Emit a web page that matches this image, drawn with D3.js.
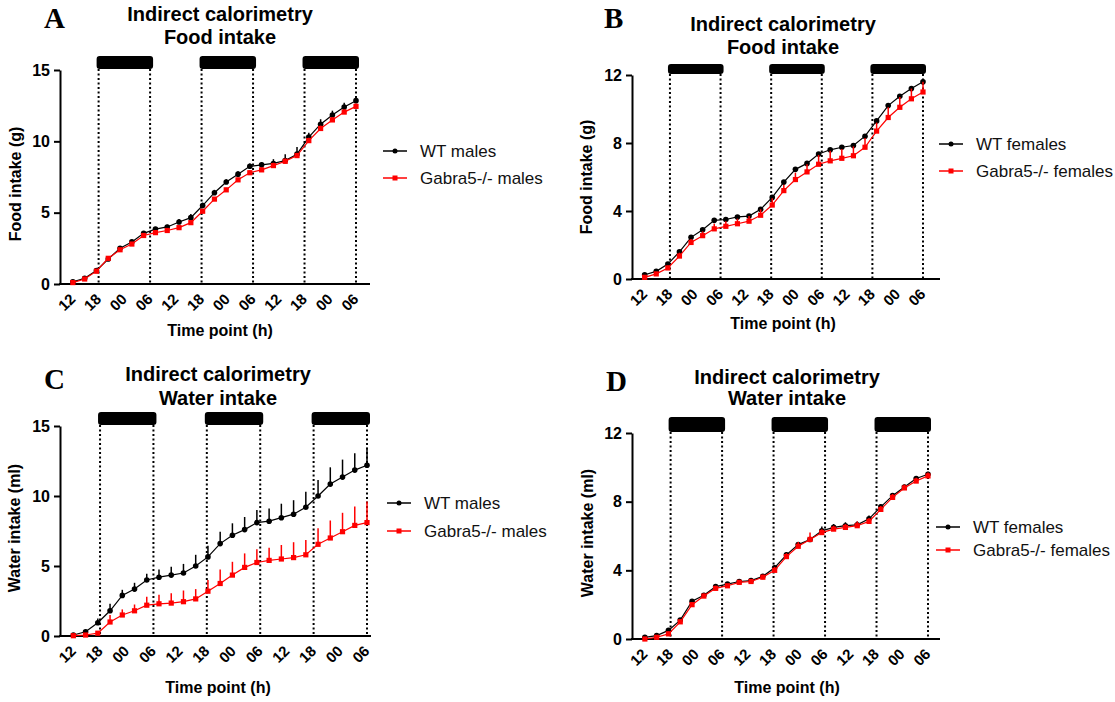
<!DOCTYPE html>
<html>
<head>
    <script src="https://cdn.jsdelivr.net/npm/d3@7"></script>
</head>

<style>
    body { margin: 0; background: #fff; }
    text { font-family: "Liberation Sans", Arial, sans-serif; }
    .letter { font-family: "Liberation Serif", "Times New Roman", serif; font-weight: bold; font-size: 29px; }
    .title { font-weight: bold; font-size: 20px; }
    .axis-label { font-weight: bold; font-size: 16px; }
    .ytick text { font-weight: bold; font-size: 16px; }
    .xtick text { font-weight: bold; font-size: 15px; }
    .legend text { font-size: 17px; fill: #111; }
</style>

<body>
<div id="chart"></div>

<script>

    // x axis: hours after the first sample (12:00 on day 1)
    var timeLabels = ['12', '18', '00', '06', '12', '18', '00', '06', '12', '18', '00', '06'];
    var tickHours = [0, 6, 12, 18, 24, 30, 36, 42, 48, 54, 60, 66];
    var sampleHours = [0, 2.75, 5.5, 8.25, 11, 13.75, 16.5, 19.25, 22, 24.75, 27.5, 30.25, 33,
        35.75, 38.5, 41.25, 44, 46.75, 49.5, 52.25, 55, 57.75, 60.5, 63.25, 66];
    var darkPeriods = [[6, 18], [30, 42], [54, 66]];

    // A - food, males
    var foodMaleWT = [0.15, 0.4, 0.95, 1.75, 2.5, 2.95, 3.55, 3.85, 4.0, 4.35, 4.65, 5.5, 6.4, 7.15, 7.7, 8.25, 8.35, 8.45, 8.65, 9.1, 10.3, 11.2, 11.85, 12.4, 12.85];
    var foodMaleWTErr = [0.05, 0.1, 0.1, 0.15, 0.15, 0.15, 0.15, 0.15, 0.15, 0.2, 0.25, 0.2, 0.2, 0.2, 0.2, 0.2, 0.2, 0.3, 0.45, 0.5, 0.3, 0.35, 0.3, 0.3, 0.25];
    var foodMaleKO = [0.1, 0.35, 0.9, 1.8, 2.4, 2.8, 3.4, 3.6, 3.75, 3.95, 4.3, 5.1, 5.95, 6.6, 7.3, 7.8, 8.0, 8.3, 8.6, 9.0, 10.05, 10.9, 11.5, 12.05, 12.45];
    var foodMaleKOErr = [0.05, 0.05, 0.1, 0.1, 0.1, 0.1, 0.1, 0.1, 0.1, 0.1, 0.15, 0.15, 0.15, 0.15, 0.15, 0.15, 0.15, 0.2, 0.2, 0.2, 0.2, 0.2, 0.2, 0.2, 0.2];

    // B - food, females
    var foodFemWT = [0.25, 0.45, 0.88, 1.6, 2.45, 2.9, 3.45, 3.5, 3.65, 3.7, 4.1, 4.8, 5.7, 6.45, 6.8, 7.35, 7.6, 7.75, 7.85, 8.4, 9.3, 10.2, 10.75, 11.2, 11.6];
    var foodFemWTErr = [0.05, 0.05, 0.1, 0.1, 0.1, 0.1, 0.1, 0.1, 0.1, 0.1, 0.1, 0.1, 0.1, 0.1, 0.1, 0.1, 0.1, 0.1, 0.1, 0.1, 0.1, 0.1, 0.1, 0.1, 0.1];
    var foodFemKO = [0.1, 0.3, 0.65, 1.35, 2.15, 2.55, 2.95, 3.1, 3.25, 3.4, 3.75, 4.35, 5.2, 5.85, 6.3, 6.75, 6.95, 7.1, 7.25, 7.75, 8.7, 9.5, 10.1, 10.6, 11.0];
    var foodFemKOErr = [0.05, 0.1, 0.15, 0.2, 0.2, 0.25, 0.3, 0.3, 0.3, 0.3, 0.35, 0.4, 0.35, 0.4, 0.45, 0.55, 0.6, 0.55, 0.55, 0.55, 0.5, 0.6, 0.6, 0.6, 0.6];

    // C - water, males
    var waterMaleWT = [0.07, 0.3, 0.95, 1.8, 2.9, 3.35, 4.0, 4.2, 4.35, 4.5, 5.0, 5.65, 6.6, 7.2, 7.6, 8.1, 8.2, 8.45, 8.7, 9.2, 10.0, 10.85, 11.35, 11.85, 12.2];
    var waterMaleWTErr = [0.05, 0.15, 0.3, 0.5, 0.4, 0.45, 0.45, 0.55, 0.6, 0.65, 0.8, 0.8, 0.85, 0.85, 0.9, 0.9, 0.9, 1.0, 1.0, 1.1, 1.15, 1.2, 1.25, 1.2, 1.25];
    var waterMaleKO = [0.02, 0.07, 0.2, 1.0, 1.5, 1.8, 2.2, 2.3, 2.35, 2.45, 2.65, 3.2, 3.75, 4.35, 4.9, 5.25, 5.4, 5.5, 5.6, 5.8, 6.55, 7.0, 7.45, 7.9, 8.1];
    var waterMaleKOErr = [0.02, 0.05, 0.1, 0.5, 0.4, 0.45, 0.6, 0.65, 0.7, 0.8, 0.7, 0.8, 1.0, 0.95, 1.0, 0.95, 0.9, 1.0, 1.1, 1.05, 1.15, 1.25, 1.35, 1.35, 1.5];

    // D - water, females
    var waterFemWT = [0.1, 0.2, 0.5, 1.1, 2.2, 2.55, 3.05, 3.2, 3.35, 3.4, 3.65, 4.15, 4.9, 5.5, 5.8, 6.3, 6.5, 6.6, 6.65, 7.0, 7.7, 8.35, 8.85, 9.35, 9.6];
    var waterFemWTErr = [0.05, 0.05, 0.1, 0.1, 0.1, 0.1, 0.1, 0.1, 0.1, 0.1, 0.1, 0.15, 0.15, 0.15, 0.15, 0.25, 0.2, 0.2, 0.2, 0.2, 0.15, 0.15, 0.15, 0.15, 0.15];
    var waterFemKO = [0.0, 0.1, 0.3, 1.0, 2.0, 2.5, 2.95, 3.1, 3.3, 3.35, 3.6, 4.0, 4.8, 5.4, 5.8, 6.2, 6.4, 6.5, 6.6, 6.85, 7.55, 8.25, 8.8, 9.2, 9.5];
    var waterFemKOErr = [0.05, 0.05, 0.15, 0.15, 0.15, 0.15, 0.15, 0.1, 0.1, 0.15, 0.15, 0.2, 0.2, 0.25, 0.4, 0.2, 0.2, 0.2, 0.25, 0.2, 0.2, 0.2, 0.2, 0.2, 0.2];

    var maleNames = ['WT males', 'Gabra5-/- males'];
    var femaleNames = ['WT females', 'Gabra5-/- females'];

    var svg = d3.select('#chart').append('svg')
        .attr('width', 1115)
        .attr('height', 702);

    var panels = [
        { letter: 'A', lx: 44, ly: 28, tx: 220, ty: [21, 44], titles: ['Indirect calorimetry', 'Food intake'],
          x0: 60, xLast: 356, xEnd: 370, yTop: 70, yBottom: 284, yMax: 15, yTicks: [0, 5, 10, 15],
          yLabel: 'Food intake (g)', ylx: 21, yly: 184, barTop: 56, xlx: 220, xly: 336,
          wt: foodMaleWT, wtErr: foodMaleWTErr, ko: foodMaleKO, koErr: foodMaleKOErr,
          names: maleNames, legX: 383, legY: [151, 178] },
        { letter: 'B', lx: 604, ly: 28, tx: 783, ty: [31, 54], titles: ['Indirect calorimetry', 'Food intake'],
          x0: 632, xLast: 923, xEnd: 940, yTop: 75, yBottom: 279, yMax: 12, yTicks: [0, 4, 8, 12],
          yLabel: 'Food intake (g)', ylx: 592, yly: 177, barTop: 64, xlx: 783, xly: 329,
          wt: foodFemWT, wtErr: foodFemWTErr, ko: foodFemKO, koErr: foodFemKOErr,
          names: femaleNames, legX: 939, legY: [144, 171] },
        { letter: 'C', lx: 44, ly: 389, tx: 218, ty: [381, 405], titles: ['Indirect calorimetry', 'Water intake'],
          x0: 60, xLast: 367, xEnd: 371, yTop: 426, yBottom: 636, yMax: 15, yTicks: [0, 5, 10, 15],
          yLabel: 'Water intake (ml)', ylx: 20, yly: 528, barTop: 412, xlx: 218, xly: 693,
          wt: waterMaleWT, wtErr: waterMaleWTErr, ko: waterMaleKO, koErr: waterMaleKOErr,
          names: maleNames, legX: 387, legY: [503, 531] },
        { letter: 'D', lx: 606, ly: 391, tx: 787, ty: [384, 405], titles: ['Indirect calorimetry', 'Water intake'],
          x0: 632, xLast: 928, xEnd: 940, yTop: 433, yBottom: 639, yMax: 12, yTicks: [0, 4, 8, 12],
          yLabel: 'Water intake (ml)', ylx: 593, yly: 533, barTop: 417, xlx: 787, xly: 693,
          wt: waterFemWT, wtErr: waterFemWTErr, ko: waterFemKO, koErr: waterFemKOErr,
          names: femaleNames, legX: 936, legY: [527, 550] }
    ];

    panels.forEach(drawPanel);

    function drawPanel(p) {
        var g = svg.append('g');

        var xScale = d3.scaleLinear()
            .domain([-3, 66])
            .range([p.x0, p.xLast]);

        var yScale = d3.scaleLinear()
            .domain([0, p.yMax])
            .range([p.yBottom, p.yTop]);

        // panel letter and title
        g.append('text').attr('class', 'letter')
            .attr('x', p.lx).attr('y', p.ly).text(p.letter);

        g.selectAll('text.title')
            .data(p.titles)
            .enter()
            .append('text')
            .attr('class', 'title')
            .attr('text-anchor', 'middle')
            .attr('x', p.tx)
            .attr('y', function(d, i) { return p.ty[i]; })
            .text(function(d) { return d; });

        // dark phase bars + dotted lines
        g.selectAll('rect.dark')
            .data(darkPeriods)
            .enter()
            .append('rect')
            .attr('class', 'dark')
            .attr('x', function(d) { return xScale(d[0]) - 2; })
            .attr('width', function(d) { return xScale(d[1]) - xScale(d[0]) + 5; })
            .attr('y', p.barTop)
            .attr('height', p.yTop - p.barTop - 1)
            .attr('rx', 3)
            .attr('fill', '#000');

        var edges = [];
        darkPeriods.forEach(function(d) { edges.push(d[0], d[1]); });

        g.selectAll('line.dotted')
            .data(edges)
            .enter()
            .append('line')
            .attr('x1', function(d) { return xScale(d); })
            .attr('x2', function(d) { return xScale(d); })
            .attr('y1', p.yTop - 1)
            .attr('y2', p.yBottom)
            .attr('stroke', '#000')
            .attr('stroke-width', 2)
            .attr('stroke-dasharray', '2,2.5');

        // y axis
        var yAxis = g.append('g')
            .attr('class', 'ytick')
            .attr('transform', 'translate(' + p.x0 + ',0)')
            .call(d3.axisLeft(yScale).tickValues(p.yTicks).tickSize(6).tickSizeOuter(0).tickPadding(4));
        yAxis.select('.domain').attr('stroke-width', 2);
        yAxis.selectAll('.tick line').attr('stroke-width', 2);

        // x axis (labels only, line drawn separately so it runs past the last point)
        var xAxis = g.append('g')
            .attr('class', 'xtick')
            .attr('transform', 'translate(0,' + p.yBottom + ')')
            .call(d3.axisBottom(xScale).tickValues(tickHours).tickSize(0)
                .tickFormat(function(d, i) { return timeLabels[i]; }));
        xAxis.select('.domain').remove();
        xAxis.selectAll('text')
            .attr('x', 0).attr('y', 0).attr('dy', 0)
            .attr('transform', 'translate(3,16) rotate(-45)')
            .style('text-anchor', 'end');

        g.append('line')
            .attr('x1', p.x0 - 1).attr('x2', p.xEnd)
            .attr('y1', p.yBottom).attr('y2', p.yBottom)
            .attr('stroke', '#000').attr('stroke-width', 2);

        g.append('text').attr('class', 'axis-label')
            .attr('text-anchor', 'middle')
            .attr('x', p.xlx).attr('y', p.xly)
            .text('Time point (h)');

        g.append('text').attr('class', 'axis-label')
            .attr('text-anchor', 'middle')
            .attr('transform', 'translate(' + p.ylx + ',' + p.yly + ') rotate(-90)')
            .text(p.yLabel);

        // series: WT first, knockout drawn on top
        var series = [
            { vals: p.wt, err: p.wtErr, color: '#000', shape: 'circle' },
            { vals: p.ko, err: p.koErr, color: '#ff0000', shape: 'square' }
        ];

        var line = d3.line()
            .x(function(d) { return xScale(d.h); })
            .y(function(d) { return yScale(d.v); });

        series.forEach(function(s) {
            var pts = s.vals.map(function(v, i) { return { h: sampleHours[i], v: v, e: s.err[i] }; });
            var sg = g.append('g');

            sg.selectAll('line.err')
                .data(pts)
                .enter()
                .append('line')
                .attr('x1', function(d) { return xScale(d.h); })
                .attr('x2', function(d) { return xScale(d.h); })
                .attr('y1', function(d) { return yScale(d.v); })
                .attr('y2', function(d) { return yScale(d.v + d.e); })
                .attr('stroke', s.color)
                .attr('stroke-width', 1.5);

            sg.append('path')
                .datum(pts)
                .attr('d', line)
                .attr('fill', 'none')
                .attr('stroke', s.color)
                .attr('stroke-width', 1.2);

            if (s.shape === 'circle') {
                sg.selectAll('circle')
                    .data(pts)
                    .enter()
                    .append('circle')
                    .attr('cx', function(d) { return xScale(d.h); })
                    .attr('cy', function(d) { return yScale(d.v); })
                    .attr('r', 2.8)
                    .attr('fill', s.color);
            } else {
                sg.selectAll('rect')
                    .data(pts)
                    .enter()
                    .append('rect')
                    .attr('x', function(d) { return xScale(d.h) - 2.6; })
                    .attr('y', function(d) { return yScale(d.v) - 2.6; })
                    .attr('width', 5.2)
                    .attr('height', 5.2)
                    .attr('fill', s.color);
            }
        });

        // legend
        var leg = g.append('g').attr('class', 'legend');
        var colors = ['#000', '#ff0000'];
        p.names.forEach(function(name, i) {
            var y = p.legY[i];
            leg.append('line')
                .attr('x1', p.legX).attr('x2', p.legX + 24)
                .attr('y1', y).attr('y2', y)
                .attr('stroke', colors[i]).attr('stroke-width', 1.5);
            if (i === 0) {
                leg.append('circle').attr('cx', p.legX + 12).attr('cy', y).attr('r', 2.5).attr('fill', colors[i]);
            } else {
                leg.append('rect').attr('x', p.legX + 9.5).attr('y', y - 2.5)
                    .attr('width', 5).attr('height', 5).attr('fill', colors[i]);
            }
            leg.append('text')
                .attr('x', p.legX + 37)
                .attr('y', y + 6)
                .text(name);
        });
    }

</script>
</body>
</html>
